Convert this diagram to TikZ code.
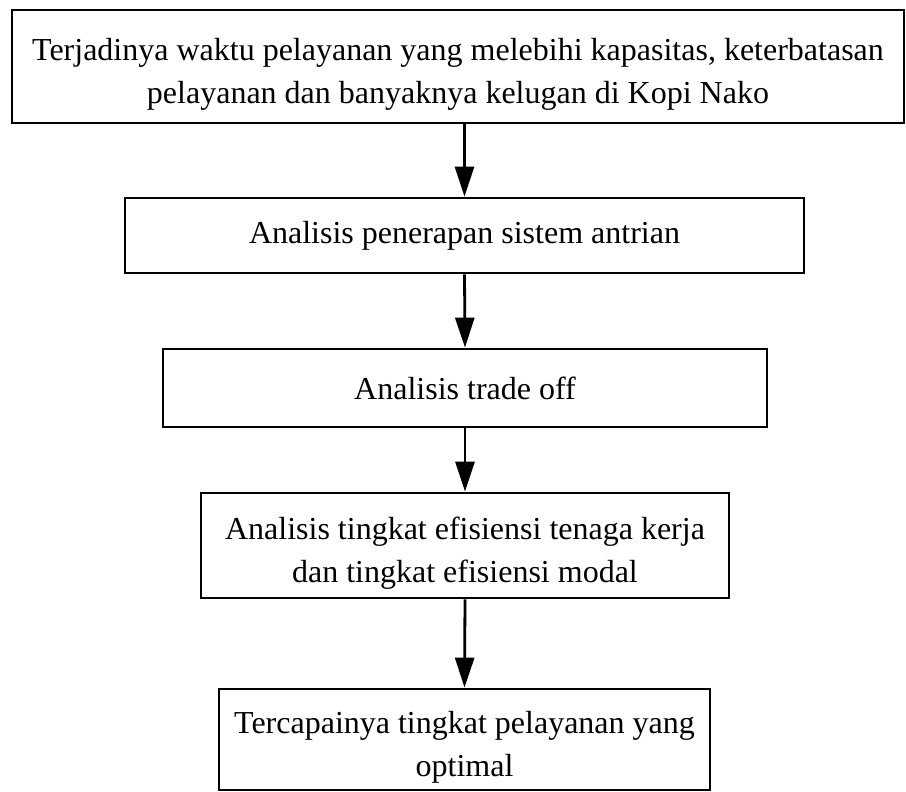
\documentclass[tikz,border=0pt]{standalone}
\usepackage{fontspec}
\setmainfont{Liberation Serif}
\usetikzlibrary{arrows.meta}
\newcommand{\lowerstrut}{\rule{0pt}{38pt}}
\begin{document}
\begin{tikzpicture}[x=1pt,y=-1pt,
  box/.style={draw, line width=2.8pt, rectangle, inner sep=0pt, align=center,
    font=\fontsize{32}{43}\selectfont},
  arr/.style={line width=2.8pt, -{Triangle[length=30pt,width=19pt]}}]
\useasboundingbox (0,0) rectangle (906,792);
\node[box, minimum width=892pt, minimum height=113pt] (b1) at (458,66.5)
  {\lowerstrut Terjadinya waktu pelayanan yang melebihi kapasitas, keterbatasan\\pelayanan dan banyaknya kelugan di Kopi Nako};
\node[box, minimum width=679pt, minimum height=75pt] (b2) at (464.5,235.5)
  {Analisis penerapan sistem antrian};
\node[box, minimum width=604pt, minimum height=78pt] (b3) at (465,388)
  {Analisis trade off};
\node[box, minimum width=528pt, minimum height=105pt] (b4) at (465,545.5)
  {\lowerstrut Analisis tingkat efisiensi tenaga kerja\\dan tingkat efisiensi modal};
\node[box, minimum width=491pt, minimum height=101pt] (b5) at (464.5,739.5)
  {\lowerstrut Tercapainya tingkat pelayanan yang\\optimal};
\draw[arr] (b2.north |- b1.south) -- (b2.north);
\draw[arr] (b2.south) -- (b3.north);
\draw[arr] (b3.south) -- (b4.north);
\draw[arr] (b4.south) -- (b5.north);
\end{tikzpicture}
\end{document}
